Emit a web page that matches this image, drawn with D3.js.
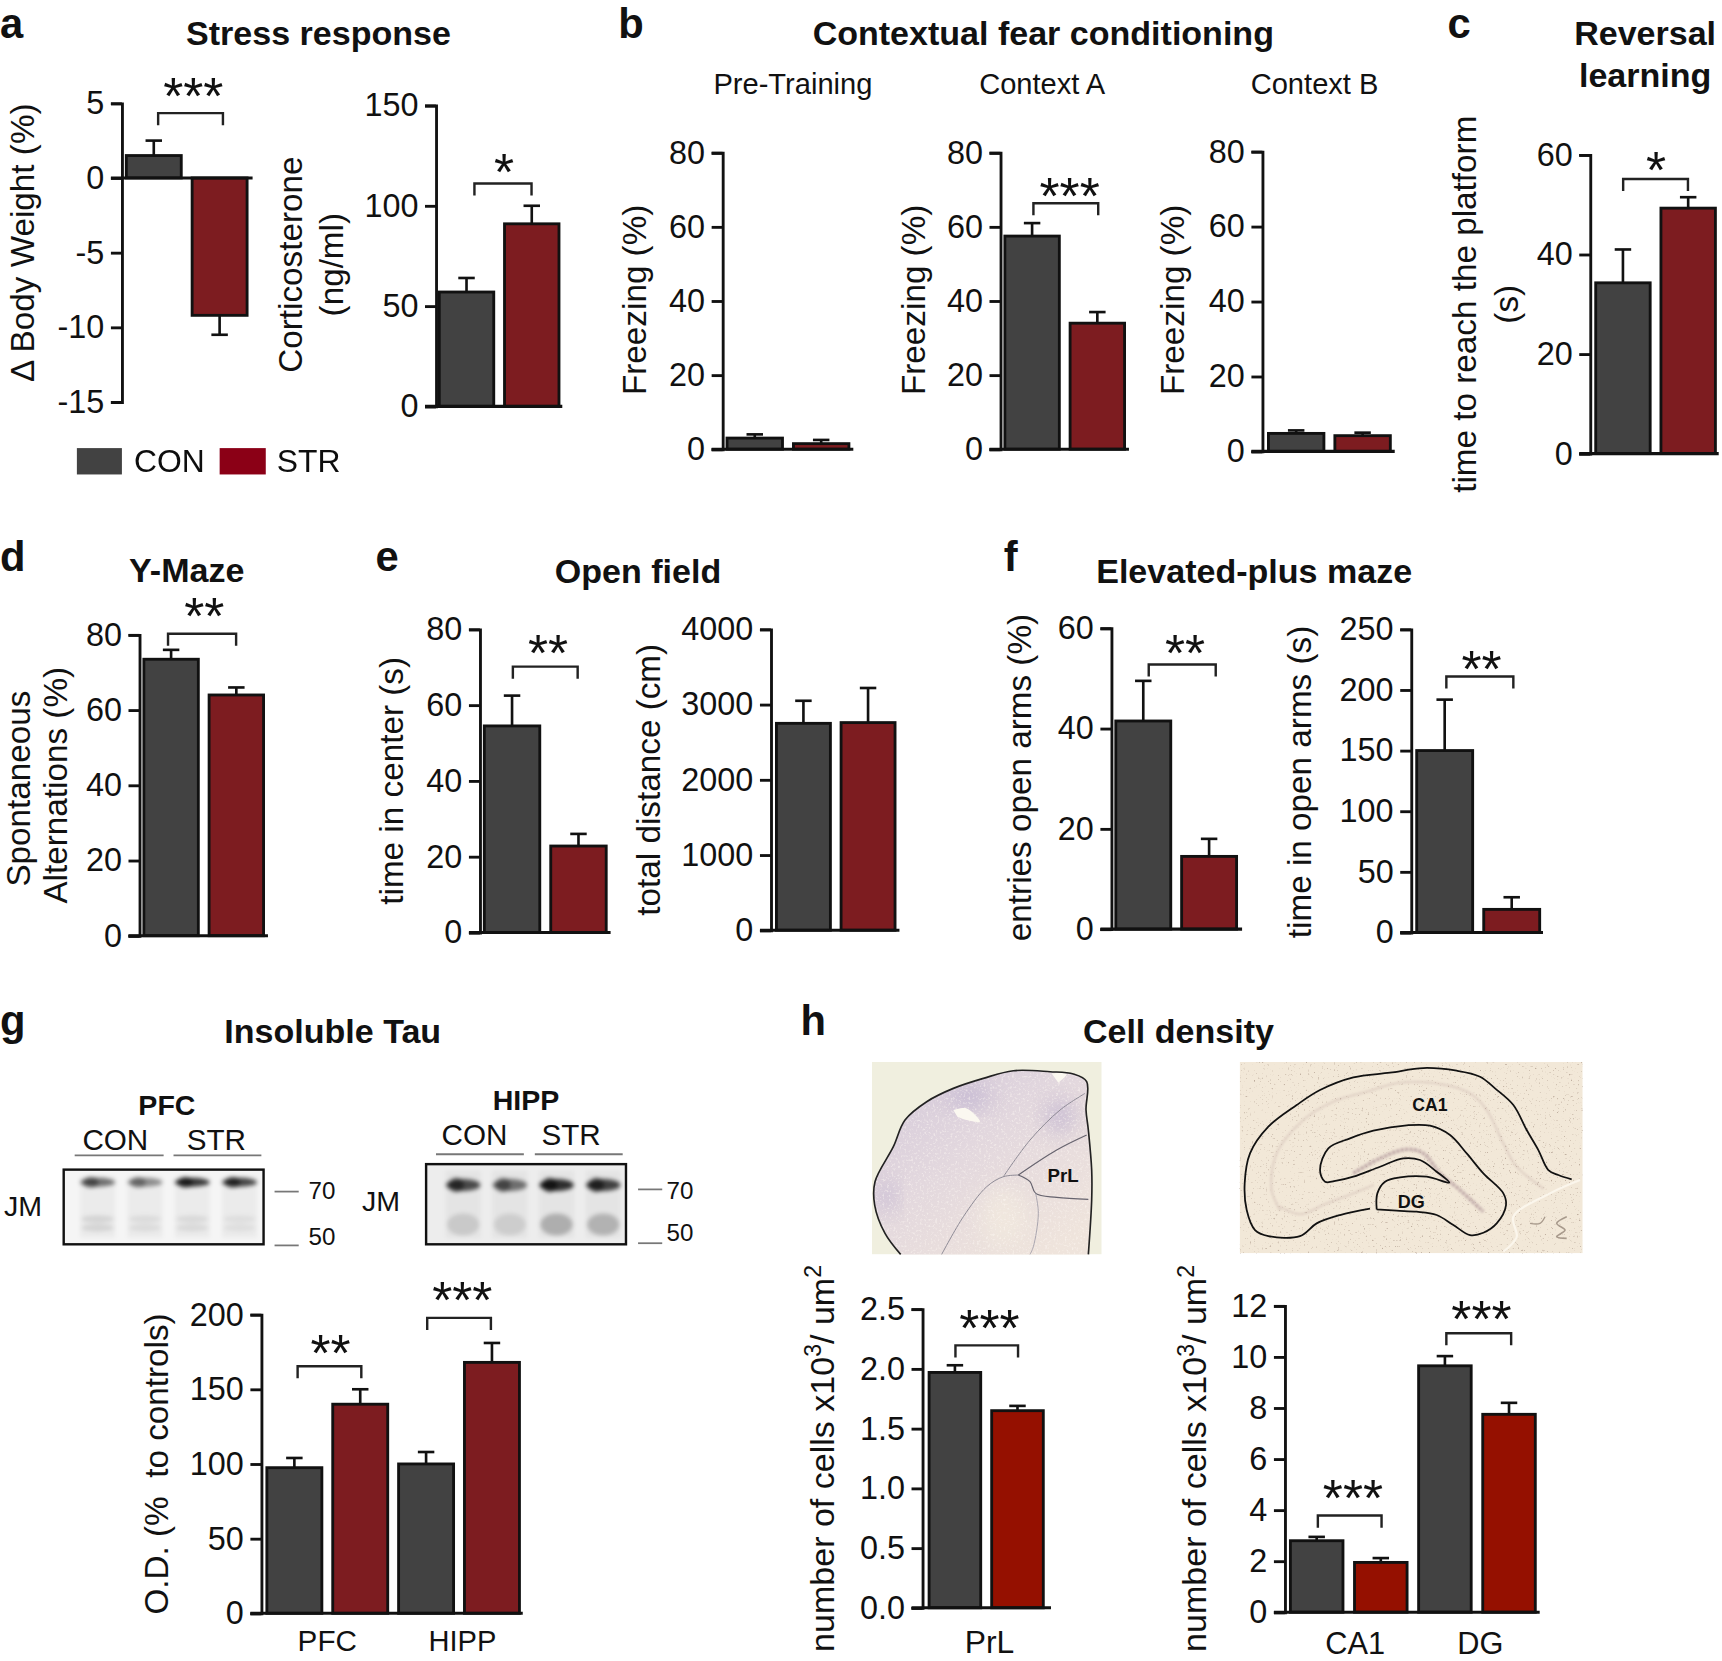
<!DOCTYPE html>
<html>
<head>
<meta charset="utf-8">
<title>Behavioural panels</title>
<style>
  body { margin: 0; background: #fff; }
  text { font-family: "Liberation Sans", Arial, sans-serif; fill: #111; white-space: pre; }
</style>
<script src="https://d3js.org/d3.v7.min.js"></script>
</head>
<body>
<script>
// values
var groups = ["CON", "STR"];

var bodyWeight = [1.5, -9.2], bodyWeightErr = [2.5, -10.5], bodyWeightTicks = [5, 0, -5, -10, -15];
var cort = [57, 91], cortErr = [64, 100], cortTicks = [0, 50, 100, 150];
var preTraining = [3, 1.5], preTrainingErr = [4, 2.5];
var contextA = [57.5, 34], contextAErr = [61, 37];
var contextB = [4.8, 4.2], contextBErr = [5.6, 5];
var freezeTicks = [0, 20, 40, 60, 80];
var reversal = [34.3, 49.3], reversalErr = [41, 51.5], reversalTicks = [0, 20, 40, 60];
var yMaze = [73.5, 64], yMazeErr = [76, 66], yMazeTicks = [0, 20, 40, 60, 80];
var centerTime = [54.5, 22.8], centerTimeErr = [62.5, 26], centerTicks = [0, 20, 40, 60, 80];
var distance = [2750, 2760], distanceErr = [3050, 3220], distanceTicks = [0, 1000, 2000, 3000, 4000];
var entries = [41.5, 14.5], entriesErr = [49.5, 18], entriesTicks = [0, 20, 40, 60];
var armTime = [150, 19], armTimeErr = [192, 29], armTicks = [0, 50, 100, 150, 200, 250];
var tau = [97.5, 140, 100, 168], tauErr = [104, 150, 108, 181], tauTicks = [0, 50, 100, 150, 200];
var prl = [1.97, 1.65], prlErr = [2.03, 1.69], prlTicks = [0, 0.5, 1, 1.5, 2, 2.5];
var hippo = [2.8, 1.95, 9.65, 7.75], hippoErr = [2.95, 2.12, 10.03, 8.2], hippoTicks = [0, 2, 4, 6, 8, 10, 12];

// blot band darkness per lane
var pfcUpper = [0.66, 0.5, 0.95, 0.88], pfcLower = [0.1, 0.07, 0.08, 0.06];
var hippUpper = [0.85, 0.65, 1, 0.9], hippLower = [0.12, 0.1, 0.24, 0.22];

var grey = "#424242", wine = "#7d1c20", red = "#951000";

var svg = d3.select("body").append("svg")
  .attr("width", 1722).attr("height", 1661)
  .attr("viewBox", "0 0 1568 1512.4");

var defs = svg.append("defs");
defs.append("filter").attr("id", "soft").append("feGaussianBlur").attr("stdDeviation", 0.7);
defs.append("filter").attr("id", "band").append("feGaussianBlur").attr("stdDeviation", 2);
defs.append("filter").attr("id", "stain").append("feGaussianBlur").attr("stdDeviation", 1);
defs.append("filter").attr("id", "patch").attr("x", "-50%").attr("y", "-50%").attr("width", "200%").attr("height", "200%")
  .append("feGaussianBlur").attr("stdDeviation", 10);

// tissue speckle
function speckle(id, freq, r, g, b, gain, cut) {
  var f = defs.append("filter").attr("id", id).attr("x", 0).attr("y", 0).attr("width", 1).attr("height", 1)
    .attr("color-interpolation-filters", "sRGB");
  f.append("feTurbulence").attr("type", "fractalNoise").attr("baseFrequency", freq).attr("numOctaves", 2).attr("seed", 4);
  f.append("feColorMatrix").attr("type", "matrix")
    .attr("values", "0 0 0 0 " + r + " 0 0 0 0 " + g + " 0 0 0 0 " + b + " " + gain + " 0 0 0 " + cut);
}
speckle("dotsBrown", 0.55, 0.5, 0.4, 0.34, 5, -3.3);
speckle("dotsPale", 0.5, 1, 0.98, 0.96, 4, -2.1);

var tissueGrad = defs.append("linearGradient").attr("id", "tissue")
  .attr("x1", 0).attr("y1", 0).attr("x2", 0.8).attr("y2", 1);
tissueGrad.append("stop").attr("offset", 0).attr("stop-color", "#d3c8da");
tissueGrad.append("stop").attr("offset", 0.45).attr("stop-color", "#e2d7de");
tissueGrad.append("stop").attr("offset", 1).attr("stop-color", "#efe4dc");

function label(x, y, str, size, weight, anchor) {
  return svg.append("text").attr("x", x).attr("y", y).text(str)
    .attr("font-size", size).attr("font-weight", weight || "normal")
    .attr("text-anchor", anchor || "middle");
}

function vlabel(x, y, str) {
  return svg.append("text").attr("transform", "translate(" + x + "," + y + ") rotate(-90)")
    .attr("text-anchor", "middle").attr("font-size", 30.3).text(str);
}

// one bar panel; top and bottom are pixel rows of the domain ends,
// left and right the outer edges of the bars, end where the baseline stops
function barPanel(o) {
  var y = d3.scaleLinear().domain(o.domain).range([o.bottom, o.top]);
  var x = d3.scaleBand().domain(d3.range(o.values.length))
    .range([o.left, o.right]).paddingInner(o.pad || 0.165).paddingOuter(0);
  var g = svg.append("g");
  var fills = o.fills || [grey, wine];

  var axis = d3.axisLeft(y).tickValues(o.ticks).tickSize(10).tickPadding(6)
    .tickFormat(o.format || function(d) { return String(d); });
  var ag = g.append("g").attr("transform", "translate(" + o.x + ",0)").call(axis);
  ag.select(".domain").attr("stroke", "#111").attr("stroke-width", 2.6);
  ag.selectAll(".tick line").attr("stroke", "#111").attr("stroke-width", 2.6);
  ag.selectAll("text").attr("font-size", 29.5).attr("font-family", '"Liberation Sans"').attr("fill", "#111");

  // error bars first, so the bar covers the stem
  var ebar = g.selectAll(".err").data(o.values).enter().append("g");
  ebar.append("line")
    .attr("x1", function(d, i) { return x(i) + x.bandwidth() / 2; })
    .attr("x2", function(d, i) { return x(i) + x.bandwidth() / 2; })
    .attr("y1", function(d) { return y(d); })
    .attr("y2", function(d, i) { return y(o.errs[i]); })
    .attr("stroke", "#111").attr("stroke-width", 2.4);
  ebar.append("line")
    .attr("x1", function(d, i) { return x(i) + x.bandwidth() / 2 - 7.5; })
    .attr("x2", function(d, i) { return x(i) + x.bandwidth() / 2 + 7.5; })
    .attr("y1", function(d, i) { return y(o.errs[i]); })
    .attr("y2", function(d, i) { return y(o.errs[i]); })
    .attr("stroke", "#111").attr("stroke-width", 2.4);

  g.selectAll(".bar").data(o.values).enter().append("rect")
    .attr("x", function(d, i) { return x(i); })
    .attr("width", x.bandwidth())
    .attr("y", function(d) { return Math.min(y(d), y(0)); })
    .attr("height", function(d) { return Math.abs(y(d) - y(0)); })
    .attr("fill", function(d, i) { return fills[i % 2]; })
    .attr("stroke", "#111").attr("stroke-width", 2.6);

  g.append("line").attr("x1", o.x - 10).attr("x2", o.end)
    .attr("y1", y(0)).attr("y2", y(0))
    .attr("stroke", "#111").attr("stroke-width", 2.8);

  (o.marks || []).forEach(function(m) {
    g.append("path")
      .attr("d", "M" + m.x1 + "," + (m.y + 11) + "V" + m.y + "H" + m.x2 + "V" + (m.y + 11))
      .attr("fill", "none").attr("stroke", "#222").attr("stroke-width", 2.2);
    g.append("text").attr("x", m.sx).attr("y", m.sy + 23).attr("text-anchor", "middle")
      .attr("font-size", 47).text(m.stars);
  });
}

// panel letters and headings
[["a", 0, 34.4], ["b", 563, 34.4], ["c", 1318, 34.4], ["d", 0, 520], ["e", 342, 520], ["f", 914, 520], ["g", 0, 942], ["h", 729, 942]]
  .forEach(function(d) { label(d[1], d[2], d[0], 38, "bold", "start"); });

label(290, 41, "Stress response", 31, "bold");
label(950, 41, "Contextual fear conditioning", 31, "bold");
label(1498, 41, "Reversal", 31, "bold");
label(1498, 79, "learning", 31, "bold");
label(170, 530, "Y-Maze", 31, "bold");
label(581, 531, "Open field", 31, "bold");
label(1142, 531, "Elevated-plus maze", 31, "bold");
label(303, 950, "Insoluble Tau", 31, "bold");
label(1073, 950, "Cell density", 31, "bold");
label(722, 86, "Pre-Training", 26.5);
label(949, 86, "Context A", 26.5);
label(1197, 86, "Context B", 26.5);

// a
barPanel({ x: 111, left: 115, right: 225, end: 230, top: 94, bottom: 366, domain: [-15, 5], values: bodyWeight, errs: bodyWeightErr, ticks: bodyWeightTicks,
  marks: [{ x1: 144, x2: 203, y: 103, sx: 176, sy: 81, stars: "***" }] });
barPanel({ x: 397, left: 400, right: 509, end: 512, top: 96, bottom: 370, domain: [0, 150], values: cort, errs: cortErr, ticks: cortTicks,
  marks: [{ x1: 432, x2: 484, y: 167, sx: 459, sy: 150, stars: "*" }] });
vlabel(31, 221, "Δ Body Weight (%)");
vlabel(275, 241, "Corticosterone");
vlabel(312, 241, "(ng/ml)");

var legendG = svg.append("g").attr("filter", "url(#soft)");
legendG.append("rect").attr("x", 70).attr("y", 408).attr("width", 41).attr("height", 24).attr("fill", grey);
legendG.append("rect").attr("x", 200).attr("y", 408).attr("width", 42).attr("height", 24).attr("fill", "#8b0018");
legendG.append("text").attr("x", 122).attr("y", 430).attr("font-size", 29).attr("fill", "#333").text(groups[0]);
legendG.append("text").attr("x", 252).attr("y", 430).attr("font-size", 29).attr("fill", "#333").text(groups[1]);

// b
barPanel({ x: 658, left: 662, right: 773, end: 777, top: 139, bottom: 409, domain: [0, 80], values: preTraining, errs: preTrainingErr, ticks: freezeTicks });
barPanel({ x: 911, left: 915, right: 1024, end: 1028, top: 139, bottom: 409, domain: [0, 80], values: contextA, errs: contextAErr, ticks: freezeTicks,
  marks: [{ x1: 941, x2: 1000, y: 185, sx: 974, sy: 172, stars: "***" }] });
barPanel({ x: 1149.5, left: 1155, right: 1266, end: 1270, top: 138, bottom: 411, domain: [0, 80], values: contextB, errs: contextBErr, ticks: freezeTicks });
vlabel(588, 273, "Freezing (%)");
vlabel(842, 273, "Freezing (%)");
vlabel(1078, 273, "Freezing (%)");

// c
barPanel({ x: 1448, left: 1453, right: 1562, end: 1565, top: 141, bottom: 413, domain: [0, 60], values: reversal, errs: reversalErr, ticks: reversalTicks,
  marks: [{ x1: 1478, x2: 1537, y: 163, sx: 1508, sy: 148, stars: "*" }] });
vlabel(1344, 277, "time to reach the platform");
vlabel(1382, 277, "(s)");

// d
barPanel({ x: 127, left: 131, right: 240, end: 244, top: 578, bottom: 852, domain: [0, 80], values: yMaze, errs: yMazeErr, ticks: yMazeTicks,
  marks: [{ x1: 153, x2: 215, y: 577, sx: 186, sy: 554, stars: "**" }] });
vlabel(27.6, 718, "Spontaneous");
vlabel(61, 715, "Alternations (%)");

// e
barPanel({ x: 437, left: 441, right: 552, end: 556, top: 573, bottom: 849, domain: [0, 80], values: centerTime, errs: centerTimeErr, ticks: centerTicks,
  marks: [{ x1: 467, x2: 526, y: 607, sx: 499, sy: 588, stars: "**" }] });
barPanel({ x: 702, left: 707, right: 815, end: 819, top: 573, bottom: 847, domain: [0, 4000], values: distance, errs: distanceErr, ticks: distanceTicks });
vlabel(367, 711, "time in center (s)");
vlabel(601, 710, "total distance (cm)");

// f
barPanel({ x: 1012, left: 1016, right: 1126, end: 1131, top: 572, bottom: 846, domain: [0, 60], values: entries, errs: entriesErr, ticks: entriesTicks,
  marks: [{ x1: 1046, x2: 1107, y: 605, sx: 1079, sy: 588, stars: "**" }] });
barPanel({ x: 1285, left: 1290, right: 1402, end: 1405, top: 573, bottom: 849, domain: [0, 250], values: armTime, errs: armTimeErr, ticks: armTicks,
  marks: [{ x1: 1317, x2: 1378, y: 616, sx: 1349, sy: 603, stars: "**" }] });
vlabel(939, 708, "entries open arms (%)");
vlabel(1194, 712, "time in open arms (s)");

// g bars
barPanel({ x: 238, left: 243, right: 473, end: 476, top: 1197, bottom: 1469, domain: [0, 200], values: tau, errs: tauErr, ticks: tauTicks,
  marks: [{ x1: 271, x2: 329, y: 1244, sx: 301, sy: 1225, stars: "**" },
          { x1: 389, x2: 447, y: 1200, sx: 421, sy: 1177, stars: "***" }] });
vlabel(153, 1333, "O.D. (%  to controls)");
label(298, 1503, "PFC", 27);
label(421, 1503, "HIPP", 26.5);

// g blots
function blot(o) {
  var lane = d3.scaleBand().domain(d3.range(4)).range([o.from, o.to]).paddingInner(0.26);
  var mid = function(d, i) { return lane(i) + lane.bandwidth() / 2; };
  var g = svg.append("g");
  g.append("rect").attr("x", o.x).attr("y", o.y).attr("width", o.w).attr("height", o.h).attr("fill", o.bg);
  var bands = g.append("g").attr("filter", "url(#band)");
  bands.selectAll(".smear").data(o.upper).enter().append("rect")
    .attr("x", function(d, i) { return lane(i); }).attr("width", lane.bandwidth())
    .attr("y", o.y + 6).attr("height", o.h - 12).attr("fill", "#000").attr("opacity", 0.04);
  bands.selectAll(".up").data(o.upper).enter().append("ellipse")
    .attr("cx", mid).attr("cy", o.upperY).attr("rx", lane.bandwidth() / 2).attr("ry", o.upperRy)
    .attr("fill", "#000").attr("opacity", function(d) { return d * 0.8; });
  // bands are heavier on their left side
  bands.selectAll(".lobe").data(o.upper).enter().append("ellipse")
    .attr("cx", function(d, i) { return lane(i) + lane.bandwidth() * 0.3; })
    .attr("cy", o.upperY).attr("rx", lane.bandwidth() * 0.22).attr("ry", o.upperRy + 1)
    .attr("fill", "#000").attr("opacity", function(d) { return d * 0.6; });
  o.lowerRows.forEach(function(row) {
    bands.selectAll(".low").data(o.lower, function(d, i) { return row + "-" + i; }).enter().append("ellipse")
      .attr("cx", mid).attr("cy", row).attr("rx", lane.bandwidth() / 2 - 1).attr("ry", o.lowerRy)
      .attr("fill", "#000").attr("opacity", function(d) { return d; });
  });
  g.append("rect").attr("x", o.x).attr("y", o.y).attr("width", o.w).attr("height", o.h)
    .attr("fill", "none").attr("stroke", "#111").attr("stroke-width", 2.2);
}
blot({ x: 58, y: 1065, w: 182, h: 68, from: 73, to: 234, bg: "#f5f5f5", upper: pfcUpper, lower: pfcLower, upperY: 1076.5, upperRy: 4, lowerRows: [1110, 1118], lowerRy: 3.5 });
blot({ x: 388, y: 1060, w: 182, h: 73, from: 406, to: 565, bg: "#ededed", upper: hippUpper, lower: hippLower, upperY: 1079, upperRy: 5.5, lowerRows: [1115], lowerRy: 10 });

function rule(x1, x2, y, col) {
  svg.append("line").attr("x1", x1).attr("x2", x2).attr("y1", y).attr("y2", y)
    .attr("stroke", col || "#777").attr("stroke-width", 1.6);
}
label(152, 1015, "PFC", 26, "bold");
label(479, 1011, "HIPP", 26, "bold");
label(105, 1047, groups[0], 27);
label(197, 1047, groups[1], 27);
label(432, 1043, groups[0], 27);
label(520, 1043, groups[1], 27);
rule(68, 149, 1052); rule(158, 238, 1052);
rule(397, 477, 1051); rule(487, 567, 1051);
label(21, 1107, "JM", 26);
label(347, 1103, "JM", 26);
rule(250, 272, 1085); rule(250, 272, 1134);
rule(581, 603, 1083); rule(581, 603, 1132);
label(281, 1092, "70", 22, "normal", "start");
label(281, 1134, "50", 22, "normal", "start");
label(607, 1092, "70", 22, "normal", "start");
label(607, 1130, "50", 22, "normal", "start");

// h histology sketches, outlines traced in reference crop pixels
var curve = d3.line().curve(d3.curveCatmullRom.alpha(0.5));
function cropMap(ox, oy) {
  return function(p) { return [(p[0] / 3 + ox) / 1.0982, (p[1] / 3 + oy) / 1.0982]; };
}
var atPfc = cropMap(870, 1060), atHip = cropMap(1240, 1060);
function trace(pts, at, col, w, closed) {
  return svg.append("path").attr("d", curve(pts.map(at)) + (closed ? "Z" : ""))
    .attr("fill", "none").attr("stroke", col).attr("stroke-width", w);
}

svg.append("rect").attr("x", 794).attr("y", 967).attr("width", 209).attr("height", 175).attr("fill", "#f0efdf");
var pfcOutline = [[92, 583], [45, 520], [14, 435], [15, 365], [70, 260], [105, 180], [170, 125], [250, 85], [340, 55], [430, 32], [540, 35], [610, 42], [650, 65], [648, 150], [655, 210], [665, 330], [665, 420], [655, 583]];
svg.append("path").attr("d", curve(pfcOutline.map(atPfc)) + "Z").attr("fill", "url(#tissue)");
svg.append("clipPath").attr("id", "pfcClip").append("path").attr("d", curve(pfcOutline.map(atPfc)) + "Z");
var patches = svg.append("g").attr("clip-path", "url(#pfcClip)");
var patchSpots = [[50, 410, 26, 40], [570, 170, 40, 45], [300, 110, 60, 30], [400, 470, 70, 90]];
patches.selectAll("ellipse").data(patchSpots).enter().append("ellipse")
  .attr("cx", function(d) { return atPfc(d)[0]; }).attr("cy", function(d) { return atPfc(d)[1]; })
  .attr("rx", function(d) { return d[2] / 3.3; }).attr("ry", function(d) { return d[3] / 3.3; })
  .attr("fill", function(d, i) { return i === 3 ? "#f3ebdf" : "#b5a8cc"; })
  .attr("filter", "url(#patch)").attr("opacity", 0.7);
patches.append("rect").attr("x", 794).attr("y", 967).attr("width", 209).attr("height", 175).attr("filter", "url(#dotsPale)").attr("opacity", 0.45);
svg.append("path").attr("d", curve([[250, 150], [290, 145], [330, 185], [290, 180], [262, 170]].map(atPfc)) + "Z").attr("fill", "#fbf8f0");
svg.append("path").attr("d", curve([[545, 40], [590, 42], [565, 68]].map(atPfc)) + "Z").attr("fill", "#fbf8f0");
trace(pfcOutline, atPfc, "#222", 1.5);
trace([[215, 583], [280, 470], [350, 380], [400, 350], [445, 345]], atPfc, "#8d8a95", 0.9);
trace([[400, 350], [480, 240], [570, 150], [645, 100]], atPfc, "#8d8a95", 0.9);
trace([[445, 345], [560, 270], [650, 225]], atPfc, "#66636e", 1.1);
trace([[445, 345], [480, 365], [497, 400], [560, 412], [655, 418]], atPfc, "#66636e", 1.1);
trace([[497, 400], [505, 460], [490, 560], [480, 583]], atPfc, "#a09da8", 0.8);
label(968, 1076, "PrL", 17, "bold");

svg.append("rect").attr("x", 1129).attr("y", 967).attr("width", 312).attr("height", 174).attr("fill", "#f2e8d8");
svg.append("rect").attr("x", 1129).attr("y", 967).attr("width", 312).attr("height", 174).attr("filter", "url(#dotsBrown)").attr("opacity", 0.45);
var layerOuter = [[120, 450], [95, 390], [110, 280], [190, 180], [280, 125], [380, 95], [480, 68], [600, 72], [690, 100], [740, 150], [790, 250], [830, 320], [910, 385]];
var layerLow = [[120, 440], [180, 462], [260, 430], [340, 400], [400, 375]];
var layerDG = [[340, 340], [420, 295], [500, 268], [550, 280], [600, 340], [660, 390], [730, 455]];
[layerOuter, layerLow].forEach(function(p) {
  trace(p, atHip, "#d2bfb6", 2.2).attr("stroke-dasharray", "1.5 1.5").attr("filter", "url(#stain)");
});
trace(layerDG, atHip, "#c3aeac", 3.5).attr("filter", "url(#stain)").attr("stroke-dasharray", "3 1");
trace([[1020, 360], [930, 400], [820, 470], [830, 530], [790, 575]], atHip, "#fbf6ec", 2);
trace([[870, 490], [900, 490], [915, 470]], atHip, "#a89a8c", 1.2);
trace([[980, 470], [950, 490], [975, 510], [950, 530], [980, 535]], atHip, "#a89a8c", 1.5);
var hipOuter = [[390, 446], [300, 465], [230, 490], [180, 528], [85, 528], [45, 510], [20, 450], [14, 370], [30, 280], [85, 200], [170, 135], [240, 90], [340, 52], [450, 38], [550, 24], [650, 32], [720, 50], [765, 85], [820, 135], [860, 210], [895, 270], [925, 330], [955, 345], [995, 358]];
var hipInner = [[410, 448], [412, 400], [435, 365], [480, 352], [560, 350], [628, 368], [590, 335], [540, 300], [490, 295], [420, 320], [340, 350], [290, 362], [255, 365], [240, 330], [265, 265], [330, 235], [400, 212], [500, 196], [570, 197], [630, 225], [680, 280], [730, 340], [790, 400], [798, 435], [770, 490], [730, 518], [690, 525], [640, 495], [590, 465], [530, 455], [470, 452], [410, 448]];
trace(hipOuter, atHip, "#111", 1.6);
trace(hipInner, atHip, "#111", 1.6);
label(1302, 1012, "CA1", 16, "bold");
label(1285, 1100, "DG", 16.4, "bold");

// h bars
function cellsLabel(x, y) {
  var t = vlabel(x, y, "").attr("font-size", 31);
  t.append("tspan").text("number of cells x10");
  t.append("tspan").attr("font-size", 21).attr("dy", -11).text("3");
  t.append("tspan").attr("dy", 11).text("/ um");
  t.append("tspan").attr("font-size", 21).attr("dy", -11).text("2");
}
barPanel({ x: 840, left: 846, right: 950, end: 957, top: 1192, bottom: 1464, domain: [0, 2.5], values: prl, errs: prlErr, ticks: prlTicks, fills: [grey, red],
  format: d3.format(".1f"), pad: 0.175,
  marks: [{ x1: 870, x2: 927, y: 1225, sx: 901, sy: 1203, stars: "***" }] });
barPanel({ x: 1170, left: 1175, right: 1398, end: 1402, top: 1189, bottom: 1468, domain: [0, 12], values: hippo, errs: hippoErr, ticks: hippoTicks, fills: [grey, red], pad: 0.18,
  marks: [{ x1: 1200, x2: 1258, y: 1380, sx: 1232, sy: 1357, stars: "***" },
          { x1: 1317, x2: 1376, y: 1214, sx: 1349, sy: 1194, stars: "***" }] });
cellsLabel(759, 1328);
cellsLabel(1098, 1328);
label(901, 1505, "PrL", 29);
label(1234, 1506, "CA1", 28);
label(1348, 1506, "DG", 28);
</script>
</body>
</html>
